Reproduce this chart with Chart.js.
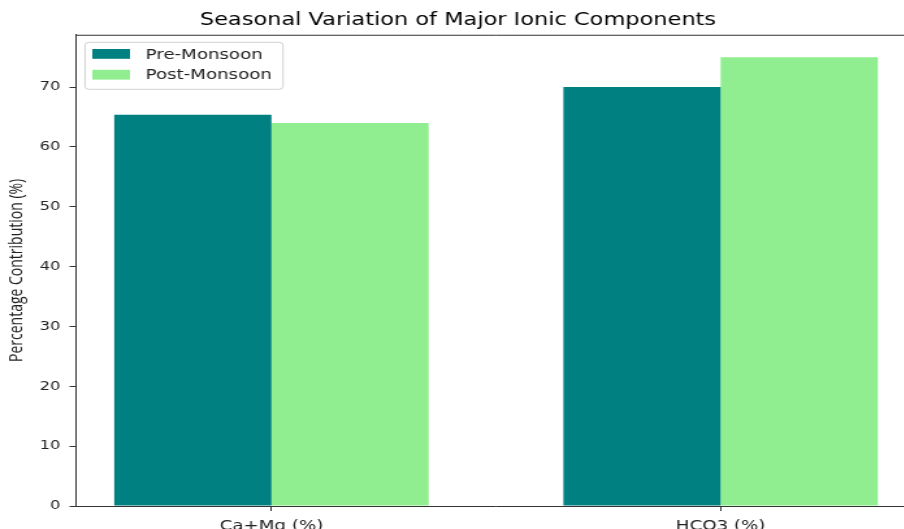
<!DOCTYPE html>
<html lang="en">
<head>
    <meta charset="UTF-8">
    <title>Seasonal Variation</title>
    <script src="https://cdn.jsdelivr.net/npm/chart.js@4.4.0/dist/chart.umd.min.js"></script>
    <style>
      body { margin: 0; background: #fff; overflow: hidden; }
      #wrap { width: 904px; height: 529px; overflow: hidden; position: relative; }
      /* the reference picture is stretched sideways, so the canvas is too */
      #myChart { transform: scaleX(1.3); transform-origin: 0 0; display: block; }
    </style>
</head>
<body>
  <div id="wrap">
    <canvas id="myChart" width="720" height="529"></canvas>
  </div>
  <script>
    const categories = ['Ca+Mg (%)', 'HCO3 (%)'];
    const preMonsoon = [65.4, 70];
    const postMonsoon = [64, 75];
    const seriesNames = ['Pre-Monsoon', 'Post-Monsoon'];
    const seriesColors = ['#008080', '#90EE90'];
    const yTicks = [0, 10, 20, 30, 40, 50, 60, 70];

    const font = "'DejaVu Sans', sans-serif";

    // top spine like matplotlib (right one falls off the picture)
    const frame = {
      id: 'frame',
      afterDatasetsDraw(chart) {
        const a = chart.chartArea, ctx = chart.ctx;
        ctx.save();
        ctx.strokeStyle = '#333';
        ctx.lineWidth = 1;
        ctx.beginPath();
        ctx.moveTo(a.left, a.top + 0.5);
        ctx.lineTo(a.right, a.top + 0.5);
        ctx.stroke();
        ctx.restore();
      }
    };

    // boxed legend in the upper left corner
    const boxLegend = {
      id: 'boxLegend',
      afterDraw(chart) {
        const ctx = chart.ctx;
        const x = 65.4, y = 42.3, w = 152.3, h = 47;
        ctx.save();
        ctx.fillStyle = 'rgba(255,255,255,0.85)';
        ctx.strokeStyle = '#d0d0d0';
        ctx.lineWidth = 1;
        ctx.beginPath();
        ctx.roundRect(x, y, w, h, 3);
        ctx.fill();
        ctx.stroke();
        ctx.font = '14px ' + font;
        ctx.textBaseline = 'middle';
        chart.data.datasets.forEach(function(ds, i) {
          const ry = 49 + i * 20.8;
          ctx.fillStyle = ds.backgroundColor;
          ctx.fillRect(71, ry, 29, 9.8);
          ctx.fillStyle = '#222';
          ctx.fillText(ds.label, 112, ry + 6);
        });
        ctx.restore();
      }
    };

    new Chart('myChart', {
      type: 'bar',
      data: {
        datasets: [{
          label: seriesNames[0],
          data: preMonsoon.map(function(v, i) { return {x: i, y: v}; }),
          backgroundColor: seriesColors[0]
        }, {
          label: seriesNames[1],
          data: postMonsoon.map(function(v, i) { return {x: i, y: v}; }),
          backgroundColor: seriesColors[1]
        }]
      },
      options: {
        responsive: false,
        animation: false,
        layout: { padding: { left: 0, right: 15.4, top: 0, bottom: 0 } },
        datasets: { bar: { categoryPercentage: 0.7, barPercentage: 1.0 } },
        plugins: {
          legend: { display: false },
          tooltip: { enabled: false },
          title: {
            display: true,
            text: 'Seasonal Variation of Major Ionic Components',
            color: '#000',
            font: { family: font, size: 17.3, weight: 'normal' },
            padding: { top: 10, bottom: 4 }
          }
        },
        scales: {
          x: {
            type: 'linear',
            min: -0.435,
            max: 1.435,
            offset: false,
            afterBuildTicks: function(axis) {
              axis.ticks = categories.map(function(c, i) { return {value: i}; });
            },
            afterFit: function(axis) { axis.height = 23; },
            grid: { drawOnChartArea: false, offset: false, color: '#333', tickLength: 5 },
            border: { display: true, color: '#333', width: 1 },
            ticks: {
              color: '#222',
              padding: 7,
              maxRotation: 0,
              font: { family: font, size: 14 },
              callback: function(v) { return categories[v]; }
            }
          },
          y: {
            min: 0,
            max: 78.75,
            afterBuildTicks: function(axis) {
              axis.ticks = yTicks.map(function(v) { return {value: v}; });
            },
            afterFit: function(axis) { axis.width = 58.5; },
            grid: { drawOnChartArea: false, color: '#333', tickLength: 5 },
            border: { display: true, color: '#333', width: 1 },
            ticks: {
              color: '#222',
              padding: 7,
              font: { family: font, size: 12.5 }
            },
            title: {
              display: true,
              text: 'Percentage Contribution (%)',
              color: '#222',
              font: { family: "'Open Sans', sans-serif", size: 14 },
              padding: { top: 5, bottom: 0 }
            }
          }
        }
      },
      plugins: [frame, boxLegend]
    });
  </script>
</body>
</html>
